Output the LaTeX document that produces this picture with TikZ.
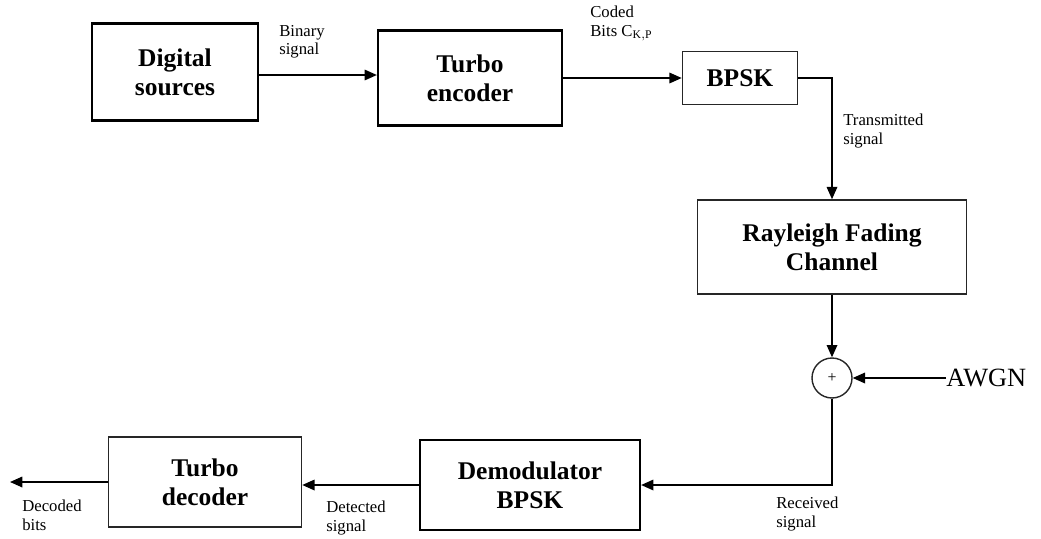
\documentclass[tikz,border=0pt]{standalone}
\usepackage{fontspec}
\setmainfont{Liberation Serif}
\usetikzlibrary{arrows.meta, positioning}

\begin{document}
\begin{tikzpicture}[
  x=0.02cm, y=-0.02cm,
  every node/.style={font=\fontsize{9.5}{10.5}\selectfont},
  block/.style={draw=black!85, line width=0.9pt, align=center, inner sep=0pt,
                font=\fontsize{14.5}{16.5}\selectfont\bfseries},
  darkblock/.style={block, draw=black, line width=1.3pt},
  summer/.style={circle, draw=black!85, line width=0.8pt, minimum size=0.8cm,
                 inner sep=0pt, font=\fontsize{9}{9}\selectfont},
  arr/.style={-{Triangle[length=7pt, width=6pt]}, line width=0.9pt},
  lbl/.style={anchor=north west, align=left, inner sep=0pt},
]
  \useasboundingbox (0,0) rectangle (1041,538);

  % ── Transmitter chain ─────────────────────────────
  \node[darkblock, minimum width=3.32cm, minimum height=1.94cm] (src) at (175,72)  {Digital\\sources};
  \node[darkblock, minimum width=3.68cm, minimum height=1.90cm] (tenc) at (470,78) {Turbo\\encoder};
  \node[block, minimum width=2.30cm, minimum height=1.06cm]     (bpsk) at (740,78) {BPSK};

  % ── Channel ──────────────────────────────────────
  \node[block, minimum width=5.38cm, minimum height=1.88cm] (fade) at (832,247) {Rayleigh Fading\\Channel};
  \node[summer] (sum) at (832,378) {+};
  \node[font=\fontsize{15}{17}\selectfont, anchor=west, inner sep=0pt] (awgn) at (946,378) {AWGN};

  % ── Receiver chain ───────────────────────────────
  \node[darkblock, minimum width=4.40cm, minimum height=1.80cm] (demod) at (530,485) {Demodulator\\BPSK};
  \node[block, minimum width=3.86cm, minimum height=1.80cm]     (tdec) at (205,482)  {Turbo\\decoder};
  \coordinate (out) at (10,482);

  % ── Connections ──────────────────────────────────
  \draw[arr] (src.east |- 0,75) -- (tenc.west |- 0,75);
  \draw[arr] (tenc) -- (bpsk);
  \draw[arr] (bpsk.east) -| (fade.north);
  \draw[arr] (fade.south) -- (sum.north);
  \draw[arr] (awgn.west) -- (sum.east);
  \draw[arr] (sum.south) |- (demod.east);
  \draw[arr] (demod.west) -- (tdec.east |- demod.west);
  \draw[arr] (tdec.west) -- (out);

  % ── Signal labels ────────────────────────────────
  \node[lbl] (binlbl) at (279,25)  {Binary\\signal};
  \node[lbl] (codlbl) at (590,6)   {Coded\\Bits C$_{\mathrm{K,P}}$};
  \node[lbl] (txlbl)  at (843,114) {Transmitted\\signal};
  \node[lbl] (rxlbl)  at (776,497) {Received\\signal};
  \node[lbl] (detlbl) at (326,501) {Detected\\signal};
  \node[lbl] (declbl) at (22,500)  {Decoded\\bits};
\end{tikzpicture}
\end{document}
